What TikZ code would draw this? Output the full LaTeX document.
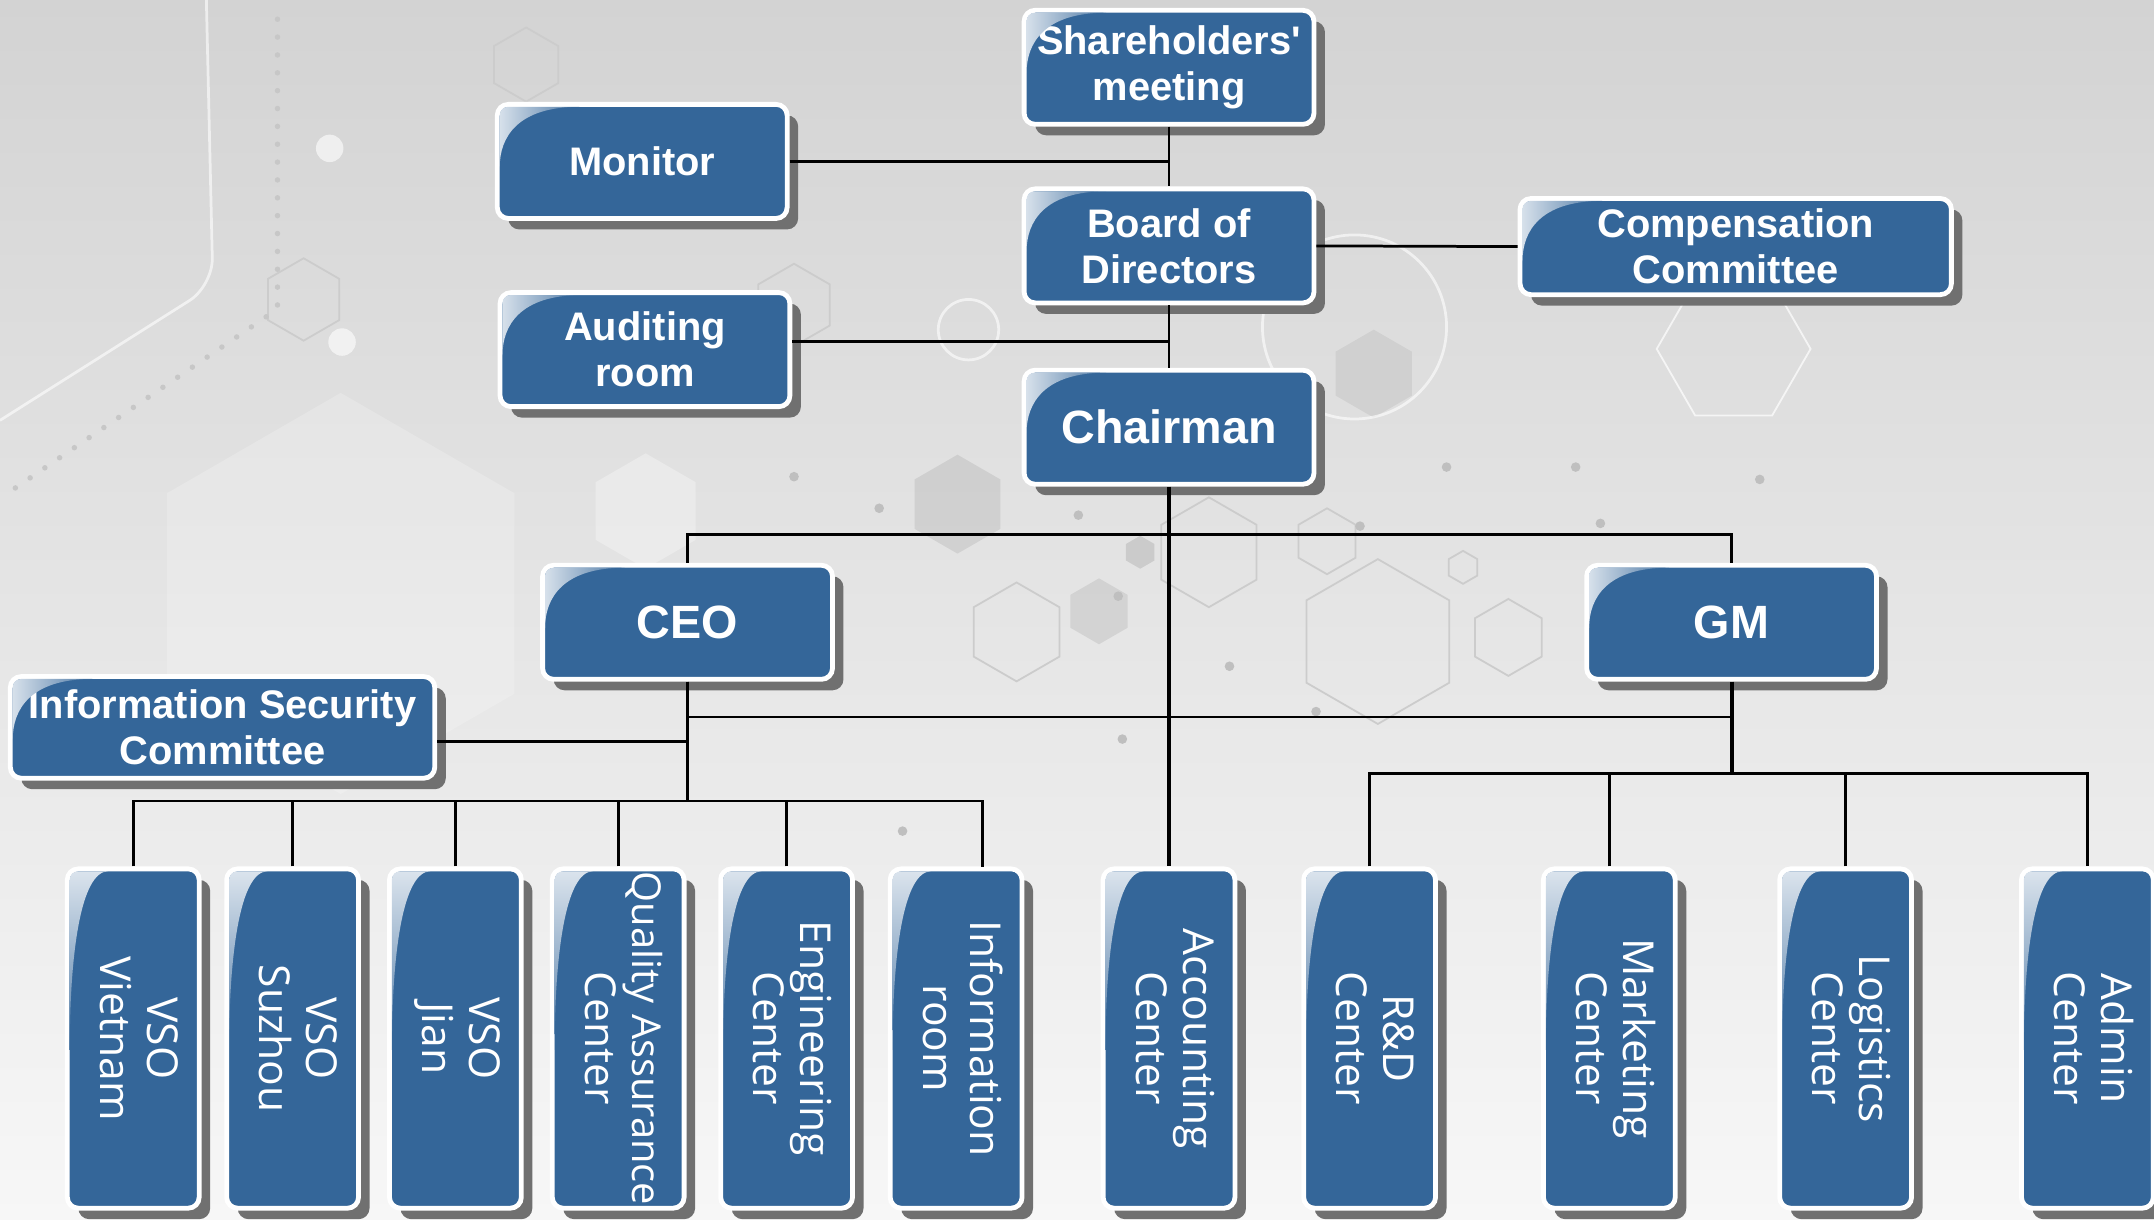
\documentclass[tikz,border=0pt]{standalone}
\usepackage{fontspec}
\setmainfont{Liberation Sans}
\newfontfamily\deptfont{Open Sans}
\usepackage{graphicx}
\usetikzlibrary{positioning,calc,shadows}

\definecolor{unitblue}{RGB}{52,102,153}
\definecolor{shadowgray}{RGB}{112,112,112}
\definecolor{bgtop}{RGB}{211,211,211}
\definecolor{bgmid}{RGB}{226,226,226}
\definecolor{bgbottom}{RGB}{247,247,247}

\newcommand{\vlabel}[2]{\rotatebox{-90}{\begin{tabular}{@{}c@{}}#1\\#2\end{tabular}}}

\tikzset{
  orgbox/.style={rectangle, rounded corners=8pt, fill=unitblue, draw=white, line width=3.5pt,
    text=white, align=center, inner sep=0pt,
    drop shadow={shadow xshift=8pt, shadow yshift=-8pt, opacity=1, fill=shadowgray}},
  headbox/.style={orgbox, minimum width=211pt, minimum height=83pt,
    font=\bfseries\fontsize{29}{33.5}\selectfont},
  deptbox/.style={orgbox, minimum width=96pt, minimum height=247pt,
    font=\deptfont\fontsize{31}{34}\selectfont},
  bigtext/.style={font=\bfseries\fontsize{34}{38}\selectfont},
  widegloss/.style={left color=white!80!unitblue, right color=unitblue!88!white},
  tallgloss/.style={top color=white!82!unitblue, bottom color=unitblue!85!white},
  conn/.style={line width=2pt},
  mainconn/.style={line width=2.8pt},
  hexline/.style={draw=black!20, line width=1.3pt},
}

% gloss in the top left corner of a box: name, width, height, control lengths, style
\newcommand{\gloss}[6]{%
  \begin{scope}
    \clip[rounded corners=6pt] ([shift={(3.5,3.5)}]#1.north west) rectangle ([shift={(-3.5,-3.5)}]#1.south east);
    \coordinate (g) at ([shift={(3.5,3.5)}]#1.north west);
    \shade[#6] (g) -- ($(g)+(#2,0)$) .. controls ($(g)+(#4,0)$) and ($(g)+(0,#5)$) .. ($(g)+(0,#3)$) -- cycle;
  \end{scope}}

\begin{document}
\begin{tikzpicture}[x=1pt,y=-1pt]
    \useasboundingbox (0,0) rectangle (1568,888);
    % Background
    \shade[top color=bgtop, middle color=bgmid, bottom color=bgbottom] (0,0) rectangle (1568,888);
    \foreach \cx/\cy/\r/\c/\o in {248/432/146/white/0.2, 470/372/42/white/0.3, 697/367/36/black/0.08, 800/445/24/black/0.08, 830/402/12/black/0.1, 1000/272/32/black/0.06}
        \fill[\c, opacity=\o] (\cx,\cy) +(30:\r) -- +(90:\r) -- +(150:\r) -- +(210:\r) -- +(270:\r) -- +(330:\r) -- cycle;
    \foreach \cx/\cy/\r in {383/47/27, 221/218/30, 880/402/40, 966/394/24, 1065/413/12, 1003/467/60, 1098/464/28, 740/460/36, 578/222/30}
        \draw[hexline] (\cx,\cy) +(30:\r) -- +(90:\r) -- +(150:\r) -- +(210:\r) -- +(270:\r) -- +(330:\r) -- cycle;
    \draw[white, line width=1.3pt, opacity=0.7] (1262,254) +(0:56) -- +(60:56) -- +(120:56) -- +(180:56) -- +(240:56) -- +(300:56) -- cycle;
    \foreach \p in {(578,347),(640,370),(785,375),(1053,340),(1147,340),(1281,349),(895,485),(817,538),(657,605),(814,434),(990,383),(1165,381),(958,518)}
        \fill[black!25] \p circle (3.5);
    \fill[white, opacity=0.6] (240,108) circle (10) (249,249) circle (10);
    \draw[black!22, line width=4pt, line cap=round, dash pattern=on 0pt off 13pt] (202,14) -- (202,225) -- (10,356);
    \draw[white, line width=2pt, opacity=0.6, rounded corners=20pt] (150,-10) -- (155,208) -- (0,306);
    \draw[white, line width=2pt, opacity=0.6] (986,238) circle (67) (705,240) circle (22);

    % Top
    \node[headbox] (share) at (851,49) {Shareholders\textquotesingle\\meeting};
    \node[headbox] (monitor) at (467.5,117.5) {Monitor};
    \node[headbox] (board) at (851,179) {Board of\\Directors};
    \node[headbox, minimum width=314pt, minimum height=70pt] (comp) at (1263.5,179.5) {Compensation\\Committee};
    \node[headbox] (audit) at (469.5,254.5) {Auditing\\room};
    \node[headbox, bigtext] (chair) at (851,311) {Chairman};
    \node[headbox, bigtext] (ceo) at (500.5,453) {CEO};
    \node[headbox, bigtext] (gm) at (1260.5,453) {GM};
    \node[headbox, minimum width=309pt, minimum height=74pt] (isc) at (162,529.5) {Information Security\\Committee};
    \foreach \n in {share,monitor,board,comp,audit,chair,ceo,gm,isc}
        \gloss{\n}{58}{44}{13}{22}{widegloss};

    % Departments
    \foreach \name/\x/\a/\b in {vsov/97/VSO/Vietnam, vsos/213/VSO/Suzhou, vsoj/331.5/VSO/Jian,
        qa/450/{\fontsize{29}{33}\selectfont Quality Assurance}/Center, eng/572.6/Engineering/Center, info/696/Information/room,
        acc/851/Accounting/Center, rd/997/R\&D/Center, mkt/1171.5/Marketing/Center,
        logi/1343.5/Logistics/Center, admin/1519.5/Admin/Center}
        {\node[deptbox] (\name) at (\x,756) {\vlabel{\a}{\b}};
         \gloss{\name}{28}{130}{8}{60}{tallgloss};}

    % Lines
    \coordinate (bus1) at (851,389);
    \coordinate (bus2) at (851,522);
    \coordinate (ceobus) at (500.5,583);
    \coordinate (gmbus) at (1260.5,563);
    \coordinate (infotop) at (715,631);
    \draw[conn] (share.south) -- (board.north);
    \draw[conn] (monitor.east) -- (monitor.east -| share.south);
    \draw[conn] (board.east) -- (comp.west);
    \draw[conn] (board.south) -- (chair.north);
    \draw[conn] ([yshift=6pt]audit.east) -- ([yshift=6pt]audit.east -| board.south);
    \draw[mainconn] (chair.south) -- (acc.north);
    \draw[conn] (ceo.north) |- (bus1) -| (gm.north);
    \draw[conn] (ceo.south) |- (bus2) -| (gm.south);
    \draw[conn] ([yshift=-10pt]isc.east) -- ([yshift=-10pt]isc.east -| ceo.south);
    \draw[conn] (ceo.south) -- (ceobus);
    \draw[conn] (vsov.north) |- (ceobus) -| (infotop);
    \foreach \n in {vsos,vsoj,qa,eng}
        \draw[conn] (\n.north) -- (\n.north |- ceobus);
    \draw[mainconn] (gm.south) -- (gmbus);
    \draw[conn] (rd.north) |- (gmbus) -| (admin.north);
    \foreach \n in {mkt,logi}
        \draw[conn] (\n.north) -- (\n.north |- gmbus);
\end{tikzpicture}
\end{document}
